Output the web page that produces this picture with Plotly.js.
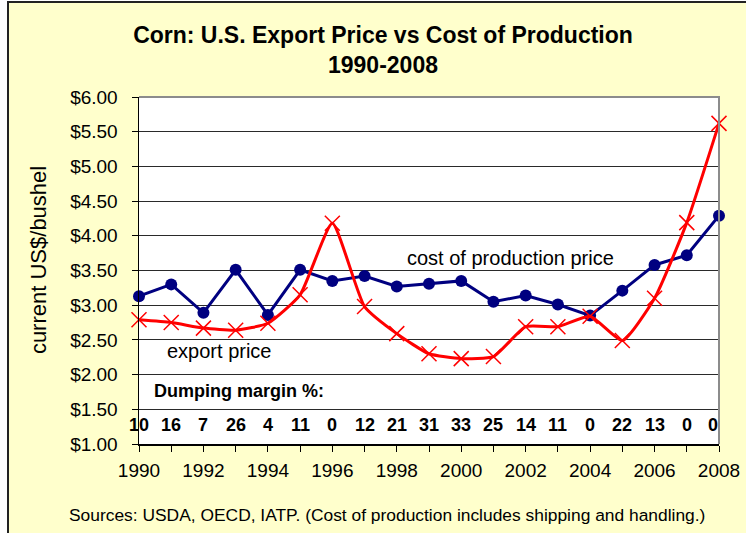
<!DOCTYPE html>
<html>
<head>
<meta charset="utf-8">
<script src="https://cdn.plot.ly/plotly-3.0.1.min.js"></script>
<style>
  html, body { margin: 0; padding: 0; background: #ffffff; }
  #frame { position: absolute; left: 7px; top: 1px; width: 760px; height: 560px;
           background: #FFFFCC; border-left: 2px solid #222; border-top: 2px solid #222; }
  #chart { position: absolute; left: 0; top: 0; width: 746px; height: 533px; }
</style>
</head>
<body>
<div id="frame"></div>
<div id="chart"></div>
<script>
// ---- data ----
const years = [1990, 1991, 1992, 1993, 1994, 1995, 1996, 1997, 1998, 1999,
               2000, 2001, 2002, 2003, 2004, 2005, 2006, 2007, 2008];
const costOfProduction = [3.13, 3.30, 2.89, 3.51, 2.86, 3.51, 3.35, 3.42, 3.27, 3.31,
                          3.35, 3.05, 3.14, 3.01, 2.85, 3.21, 3.58, 3.72, 4.29];
const exportPrice = [2.79, 2.75, 2.67, 2.64, 2.74, 3.15, 4.18, 2.98, 2.59, 2.30,
                     2.23, 2.26, 2.69, 2.69, 2.84, 2.49, 3.10, 4.19, 5.62];
const dumpingMargin = [10, 16, 7, 26, 4, 11, 0, 12, 21, 31, 33, 25, 14, 11, 0, 22, 13, 0, 0];
const titleText = "Corn: U.S. Export Price vs Cost of Production<br>1990-2008";
const yTitle = "current US$/bushel";
const sourceText = "Sources: USDA, OECD, IATP. (Cost of production includes shipping and handling.)";

const FONT = "Liberation Sans, Arial, Helvetica, sans-serif";

const traces = [
  {
    x: years, y: costOfProduction, name: "cost of production price",
    type: "scatter", mode: "lines+markers", cliponaxis: false,
    line: { color: "#000080", width: 3 },
    marker: { symbol: "circle", size: 12, color: "#000080" }
  },
  {
    x: years, y: exportPrice, name: "export price",
    type: "scatter", mode: "lines+markers", cliponaxis: false,
    line: { color: "#FF0000", width: 3, shape: "spline", smoothing: 0.5 },
    marker: { symbol: "x-thin", size: 15, color: "#FF0000", line: { color: "#FF0000", width: 1.5 } }
  }
];

const annotations = [];
years.forEach((yr, i) => {
  annotations.push({
    x: yr, y: 1.28, xref: "x", yref: "y", text: String(dumpingMargin[i]),
    showarrow: false, xanchor: i === years.length - 1 ? "right" : "center", yanchor: "middle",
    xshift: i === years.length - 1 ? 1 : 0,
    font: { family: FONT, size: 18, color: "#000", weight: "bold" }
  });
});
annotations.push({
  x: 1990.39, y: 1.76, xref: "x", yref: "y", text: "Dumping margin %:",
  showarrow: false, xanchor: "left", yanchor: "middle",
  font: { family: FONT, size: 18, color: "#000", weight: "bold" }
});
annotations.push({
  x: 1998.27, y: 3.68, xref: "x", yref: "y", text: "cost of production price",
  showarrow: false, xanchor: "left", yanchor: "middle",
  font: { family: FONT, size: 20, color: "#000" }
});
annotations.push({
  x: 1990.8, y: 2.34, xref: "x", yref: "y", text: "export price",
  showarrow: false, xanchor: "left", yanchor: "middle",
  font: { family: FONT, size: 20, color: "#000" }
});
annotations.push({
  x: -0.1741, y: 0.530, xref: "paper", yref: "paper", text: yTitle,
  showarrow: false, xanchor: "center", yanchor: "middle", textangle: -90,
  font: { family: FONT, size: 22, color: "#000" }
});
annotations.push({
  x: 0.4276, y: -0.2046, xref: "paper", yref: "paper", text: sourceText,
  showarrow: false, xanchor: "center", yanchor: "middle",
  font: { family: FONT, size: 17.4, color: "#000" }
});

const layout = {
  width: 746, height: 533,
  paper_bgcolor: "rgba(0,0,0,0)",
  plot_bgcolor: "#FFFFFF",
  margin: { l: 139, r: 27, t: 97, b: 89, pad: 0 },
  showlegend: false,
  font: { family: FONT, color: "#000" },
  title: {
    text: titleText,
    x: 0.5134, xanchor: "center", xref: "container",
    y: 0.919, yanchor: "middle", yref: "container",
    font: { family: FONT, size: 23, color: "#000", weight: "bold" }
  },
  xaxis: {
    range: [1990, 2008], tick0: 1990, dtick: 2,
    ticks: "outside", ticklen: 6, tickwidth: 1, tickcolor: "#000",
    minor: { dtick: 1, ticks: "outside", ticklen: 6, tickwidth: 1, tickcolor: "#000", showgrid: false },
    showgrid: false, zeroline: false,
    showline: true, linecolor: "#000", linewidth: 1.5,
    tickfont: { family: FONT, size: 19, color: "#000" },
    ticklabelstandoff: 3,
    fixedrange: true
  },
  yaxis: {
    range: [1, 6], tick0: 1, dtick: 0.5,
    tickprefix: "$", tickformat: ".2f",
    ticks: "outside", ticklen: 6, tickwidth: 1, tickcolor: "#000",
    showgrid: true, gridcolor: "#2a2a2a", gridwidth: 1,
    zeroline: false, showline: true, linecolor: "#000", linewidth: 1.5,
    tickfont: { family: FONT, size: 19, color: "#000" },
    ticklabelstandoff: 10,
    fixedrange: true
  },
  shapes: [
    {
      type: "path", xref: "paper", yref: "paper",
      path: "M 0 1 L 1 1 L 1 0",
      line: { color: "#8c8c8c", width: 2 }, layer: "above"
    }
  ],
  annotations: annotations
};

Plotly.newPlot("chart", traces, layout, { displayModeBar: false, staticPlot: true });
</script>
</body>
</html>
